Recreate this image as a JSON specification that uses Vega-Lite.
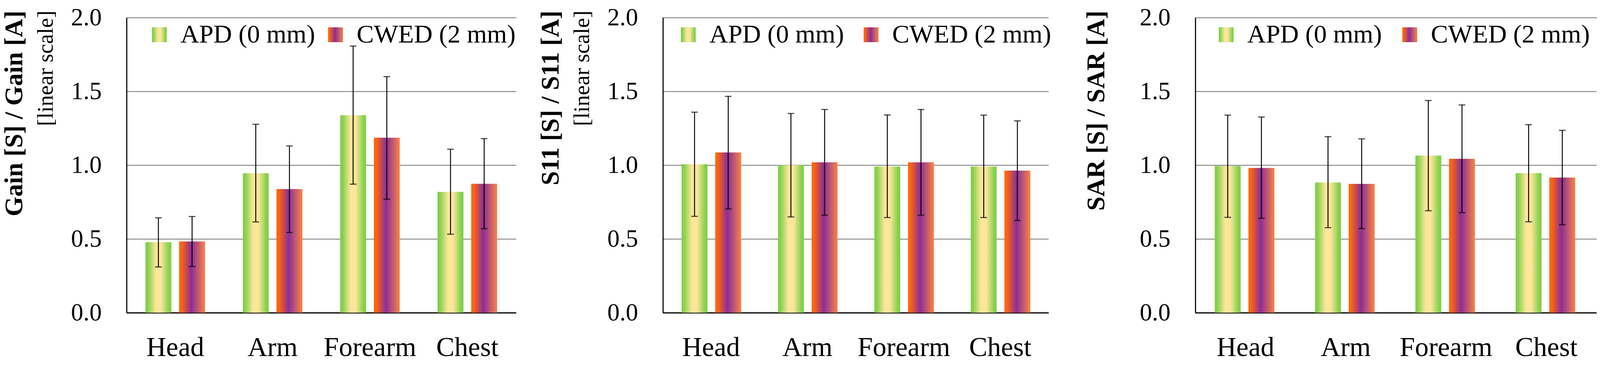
{
  "$schema": "https://vega.github.io/schema/vega-lite/v6.json",
  "background": "white",
  "padding": {"left": 5, "top": 14, "right": 10, "bottom": 10},
  "spacing": 376,
  "bounds": "flush",
  "datasets": {
    "gain": [
      {"part": "Head", "series": "APD (0 mm)", "value": 0.478, "lo": 0.310, "hi": 0.643},
      {"part": "Head", "series": "CWED (2 mm)", "value": 0.483, "lo": 0.313, "hi": 0.652},
      {"part": "Arm", "series": "APD (0 mm)", "value": 0.945, "lo": 0.615, "hi": 1.277},
      {"part": "Arm", "series": "CWED (2 mm)", "value": 0.838, "lo": 0.544, "hi": 1.130},
      {"part": "Forearm", "series": "APD (0 mm)", "value": 1.338, "lo": 0.871, "hi": 1.807},
      {"part": "Forearm", "series": "CWED (2 mm)", "value": 1.186, "lo": 0.769, "hi": 1.600},
      {"part": "Chest", "series": "APD (0 mm)", "value": 0.819, "lo": 0.532, "hi": 1.108},
      {"part": "Chest", "series": "CWED (2 mm)", "value": 0.874, "lo": 0.569, "hi": 1.180}
    ],
    "s11": [
      {"part": "Head", "series": "APD (0 mm)", "value": 1.006, "lo": 0.653, "hi": 1.359},
      {"part": "Head", "series": "CWED (2 mm)", "value": 1.086, "lo": 0.703, "hi": 1.466},
      {"part": "Arm", "series": "APD (0 mm)", "value": 1.000, "lo": 0.649, "hi": 1.350},
      {"part": "Arm", "series": "CWED (2 mm)", "value": 1.019, "lo": 0.661, "hi": 1.377},
      {"part": "Forearm", "series": "APD (0 mm)", "value": 0.990, "lo": 0.645, "hi": 1.340},
      {"part": "Forearm", "series": "CWED (2 mm)", "value": 1.019, "lo": 0.661, "hi": 1.377},
      {"part": "Chest", "series": "APD (0 mm)", "value": 0.990, "lo": 0.645, "hi": 1.339},
      {"part": "Chest", "series": "CWED (2 mm)", "value": 0.963, "lo": 0.625, "hi": 1.300}
    ],
    "sar": [
      {"part": "Head", "series": "APD (0 mm)", "value": 0.994, "lo": 0.646, "hi": 1.339},
      {"part": "Head", "series": "CWED (2 mm)", "value": 0.981, "lo": 0.640, "hi": 1.326},
      {"part": "Arm", "series": "APD (0 mm)", "value": 0.882, "lo": 0.576, "hi": 1.193},
      {"part": "Arm", "series": "CWED (2 mm)", "value": 0.873, "lo": 0.570, "hi": 1.178},
      {"part": "Forearm", "series": "APD (0 mm)", "value": 1.065, "lo": 0.691, "hi": 1.438},
      {"part": "Forearm", "series": "CWED (2 mm)", "value": 1.043, "lo": 0.678, "hi": 1.408},
      {"part": "Chest", "series": "APD (0 mm)", "value": 0.946, "lo": 0.616, "hi": 1.274},
      {"part": "Chest", "series": "CWED (2 mm)", "value": 0.916, "lo": 0.596, "hi": 1.236}
    ]
  },
  "resolve": {
    "scale": {"opacity": "independent", "strokeDash": "independent"},
    "legend": {"opacity": "independent", "strokeDash": "independent"}
  },
  "hconcat": [
    {
      "width": 997,
      "height": 756,
      "data": {"name": "gain"},
      "title": {"text": "Gain [S] / Gain [A]", "subtitle": "[linear scale]"},
      "encoding": {
        "x": {"field": "part", "type": "nominal", "sort": ["Head", "Arm", "Forearm", "Chest"], "scale": {"paddingInner": 0.388, "paddingOuter": 0.194}},
        "xOffset": {"field": "series", "type": "nominal", "scale": {"domain": ["APD (0 mm)", "CWED (2 mm)"], "paddingInner": 0.231, "paddingOuter": 0}},
        "y": {"field": "value", "type": "quantitative", "scale": {"domain": [0, 2]}, "axis": {"values": [0, 0.5, 1, 1.5, 2]}}
      },
      "layer": [
        {
          "transform": [{"filter": "datum.series === 'APD (0 mm)'"}],
          "mark": {"type": "bar", "strokeWidth": 0, "color": {"gradient": "linear", "x1": 0, "y1": 0, "x2": 1, "y2": 0, "stops": [{"offset": 0, "color": "#7dcf47"}, {"offset": 0.1, "color": "#86d24d"}, {"offset": 0.4, "color": "#fde59a"}, {"offset": 0.6, "color": "#fde59a"}, {"offset": 0.9, "color": "#86d24d"}, {"offset": 1, "color": "#7dcf47"}]}},
          "encoding": {
            "opacity": {"field": "series", "type": "nominal", "scale": {"range": [1]}, "legend": {"legendX": 51, "legendY": 11}}
          }
        },
        {
          "transform": [{"filter": "datum.series === 'CWED (2 mm)'"}],
          "mark": {"type": "bar", "strokeWidth": 0, "color": {"gradient": "linear", "x1": 0, "y1": 0, "x2": 1, "y2": 0, "stops": [{"offset": 0, "color": "#ff6600"}, {"offset": 0.1, "color": "#fc6410"}, {"offset": 0.47, "color": "#8a2e9a"}, {"offset": 1, "color": "#fa8444"}]}},
          "encoding": {
            "strokeDash": {"field": "series", "type": "nominal", "scale": {"range": [[1, 0]]}, "legend": {"legendX": 502, "legendY": 11}}
          }
        },
        {
          "mark": {"type": "rule", "color": "black", "strokeWidth": 2.4},
          "encoding": {"y": {"field": "lo", "type": "quantitative"}, "y2": {"field": "hi"}}
        },
        {
          "mark": {"type": "tick", "color": "black", "size": 17, "thickness": 2.8},
          "encoding": {"y": {"field": "lo", "type": "quantitative"}}
        },
        {
          "mark": {"type": "tick", "color": "black", "size": 17, "thickness": 2.8},
          "encoding": {"y": {"field": "hi", "type": "quantitative"}}
        }
      ]
    },
    {
      "width": 987,
      "height": 756,
      "data": {"name": "s11"},
      "title": {"text": "S11 [S] / S11 [A]", "subtitle": "[linear scale]"},
      "encoding": {
        "x": {"field": "part", "type": "nominal", "sort": ["Head", "Arm", "Forearm", "Chest"], "scale": {"paddingInner": 0.388, "paddingOuter": 0.194}},
        "xOffset": {"field": "series", "type": "nominal", "scale": {"domain": ["APD (0 mm)", "CWED (2 mm)"], "paddingInner": 0.231, "paddingOuter": 0}},
        "y": {"field": "value", "type": "quantitative", "scale": {"domain": [0, 2]}, "axis": {"values": [0, 0.5, 1, 1.5, 2]}}
      },
      "layer": [
        {
          "transform": [{"filter": "datum.series === 'APD (0 mm)'"}],
          "mark": {"type": "bar", "strokeWidth": 0, "color": {"gradient": "linear", "x1": 0, "y1": 0, "x2": 1, "y2": 0, "stops": [{"offset": 0, "color": "#7dcf47"}, {"offset": 0.1, "color": "#86d24d"}, {"offset": 0.4, "color": "#fde59a"}, {"offset": 0.6, "color": "#fde59a"}, {"offset": 0.9, "color": "#86d24d"}, {"offset": 1, "color": "#7dcf47"}]}},
          "encoding": {
            "opacity": {"field": "series", "type": "nominal", "scale": {"range": [1]}, "legend": {"legendX": 32, "legendY": 11}}
          }
        },
        {
          "transform": [{"filter": "datum.series === 'CWED (2 mm)'"}],
          "mark": {"type": "bar", "strokeWidth": 0, "color": {"gradient": "linear", "x1": 0, "y1": 0, "x2": 1, "y2": 0, "stops": [{"offset": 0, "color": "#ff6600"}, {"offset": 0.1, "color": "#fc6410"}, {"offset": 0.47, "color": "#8a2e9a"}, {"offset": 1, "color": "#fa8444"}]}},
          "encoding": {
            "strokeDash": {"field": "series", "type": "nominal", "scale": {"range": [[1, 0]]}, "legend": {"legendX": 500, "legendY": 11}}
          }
        },
        {
          "mark": {"type": "rule", "color": "black", "strokeWidth": 2.4},
          "encoding": {"y": {"field": "lo", "type": "quantitative"}, "y2": {"field": "hi"}}
        },
        {
          "mark": {"type": "tick", "color": "black", "size": 17, "thickness": 2.8},
          "encoding": {"y": {"field": "lo", "type": "quantitative"}}
        },
        {
          "mark": {"type": "tick", "color": "black", "size": 17, "thickness": 2.8},
          "encoding": {"y": {"field": "hi", "type": "quantitative"}}
        }
      ]
    },
    {
      "width": 1027,
      "height": 756,
      "data": {"name": "sar"},
      "title": {"text": "SAR [S] / SAR [A]", "offset": 76},
      "encoding": {
        "x": {"field": "part", "type": "nominal", "sort": ["Head", "Arm", "Forearm", "Chest"], "scale": {"paddingInner": 0.388, "paddingOuter": 0.194}},
        "xOffset": {"field": "series", "type": "nominal", "scale": {"domain": ["APD (0 mm)", "CWED (2 mm)"], "paddingInner": 0.231, "paddingOuter": 0}},
        "y": {"field": "value", "type": "quantitative", "scale": {"domain": [0, 2]}, "axis": {"values": [0, 0.5, 1, 1.5, 2]}}
      },
      "layer": [
        {
          "transform": [{"filter": "datum.series === 'APD (0 mm)'"}],
          "mark": {"type": "bar", "strokeWidth": 0, "color": {"gradient": "linear", "x1": 0, "y1": 0, "x2": 1, "y2": 0, "stops": [{"offset": 0, "color": "#7dcf47"}, {"offset": 0.1, "color": "#86d24d"}, {"offset": 0.4, "color": "#fde59a"}, {"offset": 0.6, "color": "#fde59a"}, {"offset": 0.9, "color": "#86d24d"}, {"offset": 1, "color": "#7dcf47"}]}},
          "encoding": {
            "opacity": {"field": "series", "type": "nominal", "scale": {"range": [1]}, "legend": {"legendX": 46, "legendY": 11}}
          }
        },
        {
          "transform": [{"filter": "datum.series === 'CWED (2 mm)'"}],
          "mark": {"type": "bar", "strokeWidth": 0, "color": {"gradient": "linear", "x1": 0, "y1": 0, "x2": 1, "y2": 0, "stops": [{"offset": 0, "color": "#ff6600"}, {"offset": 0.1, "color": "#fc6410"}, {"offset": 0.47, "color": "#8a2e9a"}, {"offset": 1, "color": "#fa8444"}]}},
          "encoding": {
            "strokeDash": {"field": "series", "type": "nominal", "scale": {"range": [[1, 0]]}, "legend": {"legendX": 516, "legendY": 11}}
          }
        },
        {
          "mark": {"type": "rule", "color": "black", "strokeWidth": 2.4},
          "encoding": {"y": {"field": "lo", "type": "quantitative"}, "y2": {"field": "hi"}}
        },
        {
          "mark": {"type": "tick", "color": "black", "size": 17, "thickness": 2.8},
          "encoding": {"y": {"field": "lo", "type": "quantitative"}}
        },
        {
          "mark": {"type": "tick", "color": "black", "size": 17, "thickness": 2.8},
          "encoding": {"y": {"field": "hi", "type": "quantitative"}}
        }
      ]
    }
  ],
  "config": {
    "font": "Liberation Serif",
    "view": {"stroke": null},
    "title": {
      "orient": "left",
      "anchor": "end",
      "frame": "group",
      "dx": 18,
      "offset": 34,
      "font": "Liberation Serif",
      "fontSize": 65,
      "fontWeight": "bold",
      "color": "black",
      "subtitleFont": "Liberation Serif",
      "subtitleFontSize": 57,
      "subtitleFontWeight": "normal",
      "subtitleColor": "black",
      "subtitlePadding": 19
    },
    "axisX": {
      "title": null,
      "labelAngle": 0,
      "labelFontSize": 70,
      "labelColor": "black",
      "labelPadding": 55,
      "labelLimit": 600,
      "ticks": false,
      "domainColor": "black",
      "domainWidth": 2.8,
      "grid": false
    },
    "axisY": {
      "title": null,
      "format": ".1f",
      "labelFontSize": 63,
      "labelColor": "black",
      "labelPadding": 64,
      "ticks": false,
      "domainColor": "black",
      "domainWidth": 2.8,
      "gridColor": "#8c8c8c",
      "gridWidth": 2.4,
      "gridOpacity": 1
    },
    "legend": {
      "orient": "none",
      "direction": "horizontal",
      "title": null,
      "padding": 0,
      "symbolType": "square",
      "symbolSize": 1444,
      "symbolStrokeWidth": 0,
      "labelFontSize": 66,
      "labelColor": "black",
      "labelOffset": 21,
      "labelLimit": 0
    }
  }
}
